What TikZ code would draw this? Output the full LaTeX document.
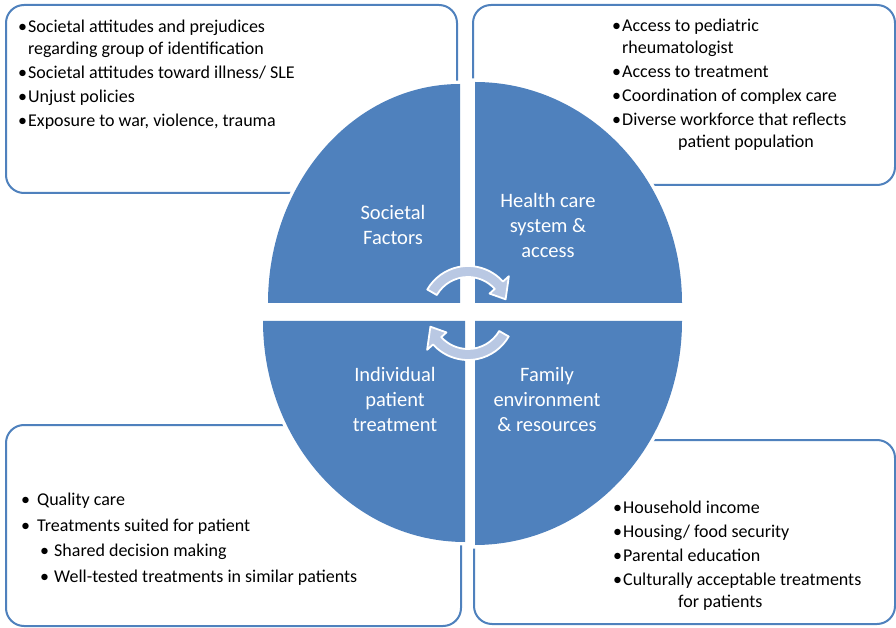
\documentclass[tikz,border=0pt]{standalone}
\usepackage{fontspec}
\setmainfont{Carlito}
\definecolor{qblue}{RGB}{79,129,189}
\definecolor{cycblue}{RGB}{185,200,227}
\newcommand{\bul}[1][10pt]{\makebox[#1][l]{\textbullet}}

\begin{document}
\begin{tikzpicture}[x=1pt,y=1pt,
  box/.style={draw=qblue,line width=2pt,rounded corners=18pt,fill=white},
  quad/.style={fill=qblue,preaction={draw=white,line width=7pt}},
  cyc/.style={fill=cycblue,draw=white,line width=1.8pt,line join=round},
  lst/.style={anchor=north west,inner sep=0pt,align=left,font=\fontsize{18}{22}\selectfont},
  lbl/.style={align=center,text=white,inner sep=0pt,font=\fontsize{20.5}{25}\selectfont}]
\useasboundingbox(0,0)rectangle(896,627);
\draw[box](6,622)rectangle(457,434);
\draw[box](473,622)rectangle(895,442);
\draw[box](6,202)rectangle(461,1);
\draw[box](474,187)rectangle(895,3);
\path[quad](460,324)--(268,324)arc[start angle=180,end angle=90,x radius=192,y radius=219]--cycle;
\path[quad](475,324)--(475,545)arc[start angle=90,end angle=0,x radius=207,y radius=221]--cycle;
\path[quad](465,306)--(263,306)arc[start angle=180,end angle=270,x radius=202,y radius=221]--cycle;
\path[quad](475,306)--(682,306)arc[start angle=0,end angle=-90,x radius=207,y radius=224]--cycle;
\begin{scope}[shift={(468,314)}]
\draw[cyc](150:36)arc[start angle=150,end angle=42,radius=36]--(42:29)--(20:40)--(42:55)--(42:47)arc[start angle=42,end angle=150,radius=47]--cycle;
\draw[cyc](-30:36)arc[start angle=-30,end angle=-138,radius=36]--(-138:29)--(-160:40)--(-138:55)--(-138:47)arc[start angle=-138,end angle=-30,radius=47]--cycle;
\end{scope}
\node[lbl](soc)at(393,402){Societal\\Factors};
\node[lbl](hlth)at(548,402){Health care\\system \&\\access};
\node[lbl](ind)at(395,228){Individual\\patient\\treatment};
\node[lbl](fam)at(547,228){Family\\environment\\\& resources};
\node[lst](socl)at(18,607){\bul Societal attitudes and prejudices\\\hspace*{10pt}regarding group of identification\\[2pt]\bul Societal attitudes toward illness/ SLE\\[2pt]\bul Unjust policies\\[2pt]\bul Exposure to war, violence, trauma};
\node[lst](hlthl)at(612,608){\bul Access to pediatric\\\hspace*{10pt}rheumatologist\\[2pt]\bul Access to treatment\\[2pt]\bul Coordination of complex care\\[2pt]\bul Diverse workforce that reflects\\\hspace*{66pt}patient population};
\node[lst](indl)at(21,134){\bul[16pt]Quality care\\[3.5pt]\bul[16pt]Treatments suited for patient\\[3.5pt]\hspace*{19pt}\bul[14pt]Shared decision making\\[3.5pt]\hspace*{19pt}\bul[14pt]Well-tested treatments in similar patients};
\node[lst](faml)at(613,126){\bul Household income\\[2pt]\bul Housing/ food security\\[2pt]\bul Parental education\\[2pt]\bul Culturally acceptable treatments\\\hspace*{65pt}for patients};
\end{tikzpicture}
\end{document}
